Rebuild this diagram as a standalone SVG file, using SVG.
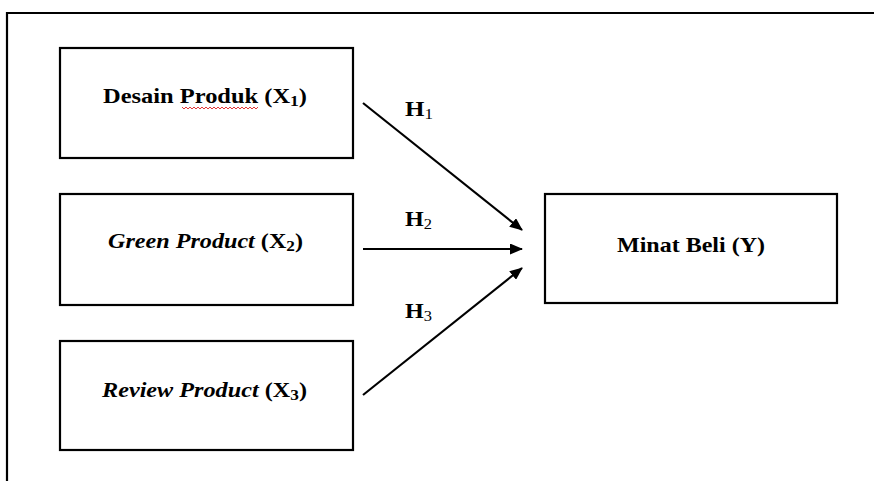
<svg xmlns="http://www.w3.org/2000/svg" width="874" height="481" viewBox="0 0 874 481">
<defs>
<style>
.box{fill:#fff;stroke:#000;stroke-width:2.2}
.lbl{font-family:"Liberation Serif","Times New Roman",serif;font-weight:bold;font-size:21px;fill:#000}
.h{font-size:22px}
.it{font-style:italic}
.sub{font-size:15px}
.edge{stroke:#000;stroke-width:2.2;fill:none;marker-end:url(#ah)}
</style>
<marker id="ah" markerWidth="13" markerHeight="11" refX="12" refY="5.5" orient="auto" markerUnits="userSpaceOnUse">
<path d="M0,0 L13,5.5 L0,11 Z" fill="#000"/>
</marker>
</defs>
<rect width="874" height="481" fill="#fff"/>
<path d="M7,481 V13 H874" fill="none" stroke="#000" stroke-width="2.2"/>

<g id="x1">
<rect class="box" x="60" y="48" width="293" height="110"/>
<text class="lbl" x="103" y="103" textLength="204" lengthAdjust="spacingAndGlyphs">Desain Produk (X<tspan class="sub" dy="3">1</tspan><tspan dy="-3">)</tspan></text>
<path d="M182,107 l2,2 l2,-2 l2,2 l2,-2 l2,2 l2,-2 l2,2 l2,-2 l2,2 l2,-2 l2,2 l2,-2 l2,2 l2,-2 l2,2 l2,-2 l2,2 l2,-2 l2,2 l2,-2 l2,2 l2,-2 l2,2 l2,-2 l2,2 l2,-2 l2,2 l2,-2 l2,2 l2,-2 l2,2 l2,-2 l2,2 l2,-2 l2,2 l2,-2 l2,2 l2,-2" fill="none" stroke="#e02020" stroke-width="0.9"/>
</g>

<g id="x2">
<rect class="box" x="60" y="194" width="293" height="111"/>
<text class="lbl" x="108" y="248" textLength="195" lengthAdjust="spacingAndGlyphs"><tspan class="it">Green Product</tspan> (X<tspan class="sub" dy="3">2</tspan><tspan dy="-3">)</tspan></text>
</g>

<g id="x3">
<rect class="box" x="60" y="341" width="293" height="109"/>
<text class="lbl" x="102" y="397" textLength="205" lengthAdjust="spacingAndGlyphs"><tspan class="it">Review Product</tspan> (X<tspan class="sub" dy="3">3</tspan><tspan dy="-3">)</tspan></text>
</g>

<g id="y">
<rect class="box" x="545" y="194" width="292" height="109"/>
<text class="lbl" x="617" y="252" textLength="148" lengthAdjust="spacingAndGlyphs">Minat Beli (Y)</text>
</g>

<g id="connectors">
<path class="edge" d="M363,103 L522,230"/>
<path class="edge" d="M363,249 L522,249"/>
<path class="edge" d="M363,395 L522,268"/>
<text class="lbl h" x="405" y="116" textLength="28" lengthAdjust="spacingAndGlyphs">H<tspan class="sub" font-weight="normal" dy="3">1</tspan></text>
<text class="lbl h" x="405" y="226" textLength="27" lengthAdjust="spacingAndGlyphs">H<tspan class="sub" font-weight="normal" dy="3">2</tspan></text>
<text class="lbl h" x="405" y="318" textLength="27" lengthAdjust="spacingAndGlyphs">H<tspan class="sub" font-weight="normal" dy="3">3</tspan></text>
</g>
</svg>
